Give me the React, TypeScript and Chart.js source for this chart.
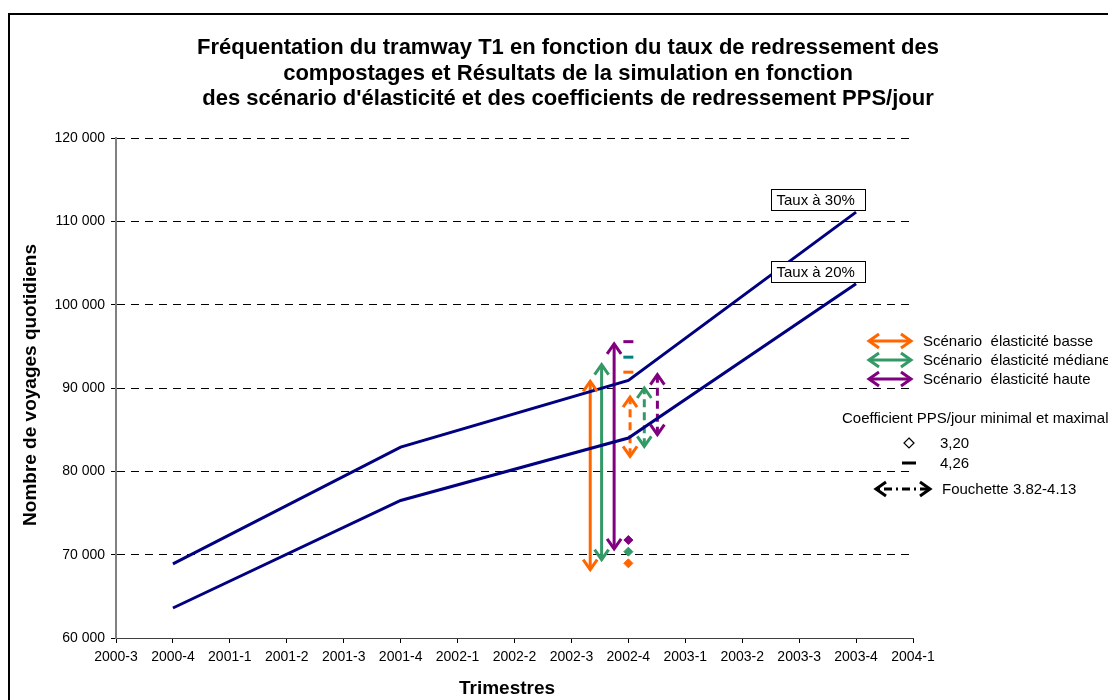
import React, { useEffect, useRef } from "react";
import { Chart, registerables } from "chart.js";

Chart.register(...registerables);

const quarters = [
  "2000-3", "2000-4", "2001-1", "2001-2", "2001-3", "2001-4", "2002-1", "2002-2",
  "2002-3", "2002-4", "2003-1", "2003-2", "2003-3", "2003-4", "2004-1",
];
const lineQuarters = ["2000-4", "2001-4", "2002-4", "2003-4"];
const taux30 = [68900, 82900, 90900, 111100];
const taux20 = [63600, 76500, 84000, 102500];

const scenarioNames = ["Scénario  élasticité basse", "Scénario  élasticité médiane", "Scénario  élasticité haute"];
const scenarioColors = ["#FF6600", "#339966", "#800080"];
const dashMarkerColors = ["#FF6600", "#008080", "#800080"];

// solid arrows (full range), x position in quarter index units
const solidX = [8.33, 8.53, 8.75];
const solidLow = [68200, 69400, 70700];
const solidHigh = [90800, 92800, 95300];
// dashed arrows (fourchette 3.82-4.13)
const dashedX = [9.03, 9.28, 9.51];
const dashedLow = [81800, 83000, 84400];
const dashedHigh = [88900, 90000, 91600];
// coefficient markers at 2002-4
const markerQuarter = "2002-4";
const coef320 = [68960, 70360, 71760];
const coef426 = [91900, 93700, 95560];

const FONT = "'Liberation Sans', Arial, sans-serif";

function fmt(v: number) {
  const s = String(Math.round(v));
  return s.replace(/\B(?=(\d{3})+(?!\d))/g, " ");
}

function chevron(ctx: CanvasRenderingContext2D, x: number, y: number, dx: number, dy: number, color: string) {
  const len = Math.hypot(dx, dy) || 1;
  const ux = dx / len, uy = dy / len;
  const L = 10, W = 7;
  ctx.save();
  ctx.setLineDash([]);
  ctx.strokeStyle = color;
  ctx.lineWidth = 3;
  ctx.lineJoin = "miter";
  ctx.beginPath();
  ctx.moveTo(x - ux * L - uy * W, y - uy * L + ux * W);
  ctx.lineTo(x, y);
  ctx.lineTo(x - ux * L + uy * W, y - uy * L - ux * W);
  ctx.stroke();
  ctx.restore();
}

const arrowPlugin = {
  id: "arrowHeads",
  afterDatasetsDraw(chart: any) {
    const ctx = chart.ctx as CanvasRenderingContext2D;
    chart.data.datasets.forEach((ds: any, i: number) => {
      if (!ds.isArrow) return;
      const meta = chart.getDatasetMeta(i);
      const p0 = meta.data[0], p1 = meta.data[1];
      if (!p0 || !p1) return;
      chevron(ctx, p0.x, p0.y, p0.x - p1.x, p0.y - p1.y, ds.borderColor);
      chevron(ctx, p1.x, p1.y, p1.x - p0.x, p1.y - p0.y, ds.borderColor);
    });
  },
  afterDraw(chart: any) {
    const ctx = chart.ctx as CanvasRenderingContext2D;
    ctx.save();
    // frame
    ctx.strokeStyle = "#000";
    ctx.lineWidth = 2;
    ctx.strokeRect(1, 6, 3000, 3000);

    // title
    ctx.fillStyle = "#000";
    ctx.textAlign = "center";
    ctx.textBaseline = "middle";
    ctx.font = `bold 22px ${FONT}`;
    const titleLines = [
      "Fréquentation du tramway T1 en fonction du taux de redressement des",
      "compostages et Résultats de la simulation en fonction",
      "des scénario d'élasticité et des coefficients de redressement PPS/jour",
    ];
    titleLines.forEach((t, k) => ctx.fillText(t, 560, 40 + k * 25.5));

    // axis titles
    ctx.font = `bold 19px ${FONT}`;
    ctx.fillText("Trimestres", 499, 681);
    ctx.save();
    ctx.translate(23, 377);
    ctx.rotate(-Math.PI / 2);
    ctx.fillText("Nombre de voyages quotidiens", 0, 0);
    ctx.restore();

    // Taux labels at last point of each line
    const labels = ["Taux à 30%", "Taux à 20%"];
    [0, 1].forEach((di) => {
      const meta = chart.getDatasetMeta(di);
      const p = meta.data[meta.data.length - 1];
      const bx = Math.round(p.x - 85) + 0.5, by = Math.round(p.y - 23) + 0.5;
      ctx.fillStyle = "#fff";
      ctx.fillRect(bx, by, 94, 21);
      ctx.strokeStyle = "#000";
      ctx.lineWidth = 1;
      ctx.strokeRect(bx, by, 94, 21);
      ctx.fillStyle = "#000";
      ctx.font = `15px ${FONT}`;
      ctx.textAlign = "left";
      ctx.fillText(labels[di], bx + 5, by + 11);
    });

    // legend
    ctx.font = `15px ${FONT}`;
    ctx.textAlign = "left";
    const ly = [333, 352, 371];
    scenarioNames.forEach((n, k) => {
      ctx.strokeStyle = scenarioColors[k];
      ctx.lineWidth = 3;
      ctx.setLineDash([]);
      ctx.beginPath();
      ctx.moveTo(861, ly[k]);
      ctx.lineTo(903, ly[k]);
      ctx.stroke();
      chevron(ctx, 861, ly[k], -1, 0, scenarioColors[k]);
      chevron(ctx, 903, ly[k], 1, 0, scenarioColors[k]);
      ctx.fillStyle = "#000";
      ctx.fillText(n, 915, ly[k] + 1);
    });
    ctx.fillText("Coefficient PPS/jour minimal et maximal", 834, 411);
    // diamond
    ctx.beginPath();
    ctx.moveTo(901, 430);
    ctx.lineTo(906, 435);
    ctx.lineTo(901, 440);
    ctx.lineTo(896, 435);
    ctx.closePath();
    ctx.fillStyle = "#fff";
    ctx.fill();
    ctx.strokeStyle = "#000";
    ctx.lineWidth = 1.2;
    ctx.stroke();
    ctx.fillStyle = "#000";
    ctx.fillText("3,20", 932, 436);
    // dash
    ctx.lineWidth = 3;
    ctx.beginPath();
    ctx.moveTo(894, 455);
    ctx.lineTo(908, 455);
    ctx.stroke();
    ctx.fillText("4,26", 932, 456);
    // dashed arrow
    ctx.setLineDash([2, 4, 8, 4]);
    ctx.beginPath();
    ctx.moveTo(870, 481);
    ctx.lineTo(920, 481);
    ctx.stroke();
    ctx.setLineDash([]);
    chevron(ctx, 868, 481, -1, 0, "#000");
    chevron(ctx, 922, 481, 1, 0, "#000");
    ctx.fillText("Fouchette 3.82-4.13", 934, 482);
    ctx.restore();
  },
};

export default function App() {
  const ref = useRef<HTMLCanvasElement>(null);
  useEffect(() => {
    if (!ref.current) return;
    const qx = (q: string) => quarters.indexOf(q);
    const datasets: any[] = [
      {
        label: "Taux à 30%",
        data: lineQuarters.map((q, i) => ({ x: qx(q), y: taux30[i] })),
        borderColor: "#000080",
        borderWidth: 3,
        pointRadius: 0,
        fill: false,
      },
      {
        label: "Taux à 20%",
        data: lineQuarters.map((q, i) => ({ x: qx(q), y: taux20[i] })),
        borderColor: "#000080",
        borderWidth: 3,
        pointRadius: 0,
        fill: false,
      },
    ];
    scenarioNames.forEach((n, k) => {
      datasets.push({
        label: n,
        isArrow: true,
        data: [
          { x: solidX[k], y: solidLow[k] },
          { x: solidX[k], y: solidHigh[k] },
        ],
        borderColor: scenarioColors[k],
        borderWidth: 3,
        pointRadius: 0,
        fill: false,
      });
      datasets.push({
        label: n + " fourchette",
        isArrow: true,
        data: [
          { x: dashedX[k], y: dashedLow[k] },
          { x: dashedX[k], y: dashedHigh[k] },
        ],
        borderColor: scenarioColors[k],
        borderDash: [8, 5],
        borderWidth: 3,
        pointRadius: 0,
        fill: false,
      });
    });
    datasets.push({
      label: "3,20",
      data: coef320.map((v) => ({ x: qx(markerQuarter), y: v })),
      showLine: false,
      pointStyle: "rectRot",
      pointRadius: 4.5,
      pointBackgroundColor: scenarioColors,
      pointBorderColor: scenarioColors,
      pointBorderWidth: 1,
    });
    datasets.push({
      label: "4,26",
      data: coef426.map((v) => ({ x: qx(markerQuarter), y: v })),
      showLine: false,
      pointStyle: "line",
      pointRadius: 5,
      pointBorderColor: dashMarkerColors,
      pointBorderWidth: 3,
    });

    const chart = new Chart(ref.current, {
      type: "line",
      data: { datasets },
      options: {
        animation: false,
        responsive: false,
        layout: { padding: { top: 130, right: 203, left: 0, bottom: 0 } },
        plugins: { legend: { display: false }, tooltip: { enabled: false }, title: { display: false } },
        scales: {
          x: {
            type: "linear",
            min: 0,
            max: quarters.length - 1,
            afterFit: (s: any) => { s.height = 62; },
            ticks: {
              stepSize: 1,
              autoSkip: false,
              maxRotation: 0,
              padding: 6,
              color: "#000",
              font: { family: FONT, size: 14 },
              callback: (v: any) => quarters[v] ?? "",
            },
            grid: { drawOnChartArea: false, tickLength: 5, tickColor: "#000" },
            border: { color: "#404040", width: 1 },
          },
          y: {
            min: 60000,
            max: 120000,
            afterFit: (s: any) => { s.width = 108; },
            ticks: {
              stepSize: 10000,
              padding: 6,
              color: "#000",
              font: { family: FONT, size: 14 },
              callback: (v: any) => fmt(Number(v)),
            },
            grid: {
              color: (c: any) => (c.tick && c.tick.value === 60000 ? "rgba(0,0,0,0)" : "#000"),
              lineWidth: 1,
              tickLength: 5,
              tickColor: "#000",
            },
            border: { color: "#808080", width: 2, dash: [8, 6] },
          },
        },
      },
      plugins: [arrowPlugin],
    } as any);
    return () => chart.destroy();
  }, []);
  return (
    <div style={{ width: 1108, height: 692, background: "#fff" }}>
      <canvas ref={ref} width={1108} height={692} />
    </div>
  );
}
